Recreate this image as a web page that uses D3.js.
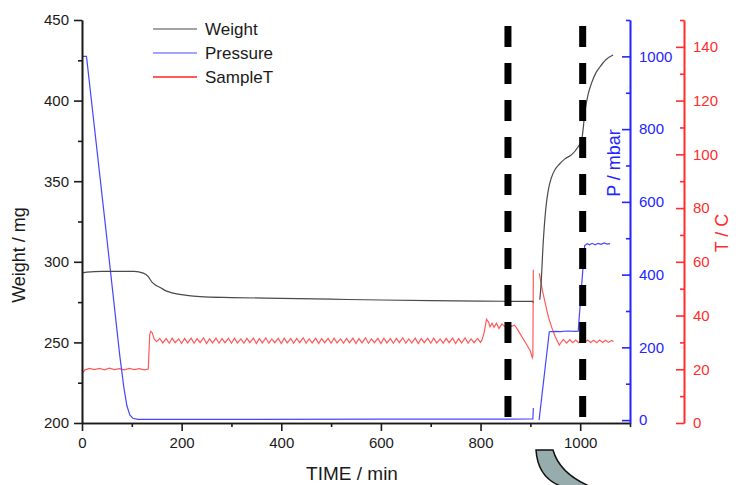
<!DOCTYPE html>
<html>
<head>
<meta charset="utf-8">
<script src="https://cdn.jsdelivr.net/npm/d3@7"></script>
<style>
  body { margin: 0; background: #fff; }
  svg text { font-family: 'Liberation Sans', Arial, sans-serif; }
</style>
</head>
<body>
<div class="tgaChart"></div>
<script>
// time in min, weight in mg (null = gap in logging)
const weightData = [
  [0, 292.9], [10, 293.6], [40, 294], [105, 294], [123, 293], [133, 290.8], [140, 287.6],
  [148, 285.5], [157, 284], [170, 281.8], [183, 280.6], [210, 279.2], [237, 278.4],
  [300, 277.8], [400, 277.3], [500, 276.8], [600, 276.3], [700, 275.9], [800, 275.6],
  [905, 275.4], [906, 274.6], [912, null],
  [919, 276.5], [921, 284], [926, 313], [931, 333], [936, 344.5], [942, 352], [950, 357.5],
  [958, 360.5], [970, 364], [983, 366.5], [996, 371.4], [1003, 375.6], [1010, 394],
  [1016, 404], [1023, 411], [1032, 417.5], [1040, 421], [1052, 425.5], [1066, 428.3]
];

// time in min, pressure in mbar
const pressureData = [
  [0, 1000], [9, 1000], [48, 523], [76, 175], [84, 90], [90, 40], [96, 14], [102, 5],
  [112, 2], [300, 2], [600, 2.5], [905, 3], [906, 33], [912, null],
  [917.5, 0], [938, 243], [950, 244], [960, 243.5], [975, 245], [990, 244], [996, 244.5],
  [1009, 480], [1014, 485], [1019, 482], [1024, 486], [1030, 482], [1036, 486],
  [1042, 483], [1048, 487], [1054, 484], [1060, 485]
];

// time in min, sample temperature in C
const tempData = [
  [0, 19.9], [2, 18.8], [6, 19.8], [15, 20.3], [25, 19.9], [35, 20.3], [45, 19.8],
  [55, 20.4], [65, 19.9], [75, 20.2], [85, 19.8], [95, 20.3], [105, 19.9], [115, 20.2],
  [125, 19.8], [133, 20.1], [136, 33], [138, 34.1], [141, 33.6], [145, 31.2],
  [150, 30.3], [156, 31.5], [162, 29.8], [169, 31.4], [175, 29.7], [181, 31.6], [187, 29.9],
  [194, 31.3], [200, 29.6], [206, 31.5], [212, 29.8], [219, 31.6], [225, 29.7], [231, 31.4],
  [237, 29.9], [244, 31.7], [250, 29.6], [256, 31.3], [262, 29.8], [269, 31.6], [275, 29.7],
  [281, 31.4], [287, 29.9], [294, 31.5], [300, 29.7], [306, 31.6], [312, 29.8], [319, 31.3],
  [325, 29.7], [331, 31.5], [337, 29.9], [344, 31.6], [350, 29.6], [356, 31.4], [362, 29.8],
  [369, 31.7], [375, 29.7], [381, 31.3], [387, 29.9], [394, 31.5], [400, 29.6], [406, 31.6],
  [412, 29.8], [419, 31.4], [425, 29.7], [431, 31.5], [437, 29.9], [444, 31.7], [450, 29.7],
  [456, 31.3], [462, 29.8], [469, 31.6], [475, 29.6], [481, 31.4], [487, 29.9], [494, 31.5],
  [500, 29.7], [506, 31.6], [512, 29.8], [519, 31.3], [525, 29.7], [531, 31.5], [537, 29.9],
  [544, 31.6], [550, 29.6], [556, 31.4], [562, 29.8], [569, 31.7], [575, 29.7], [581, 31.3],
  [587, 29.9], [594, 31.5], [600, 29.6], [606, 31.6], [612, 29.8], [619, 31.4], [625, 29.7],
  [631, 31.5], [637, 29.9], [644, 31.7], [650, 29.7], [656, 31.3], [662, 29.8], [669, 31.6],
  [675, 29.6], [681, 31.4], [687, 29.9], [694, 31.5], [700, 29.7], [706, 31.6], [712, 29.8],
  [719, 31.3], [725, 29.7], [731, 31.5], [737, 29.9], [744, 31.6], [750, 29.6], [756, 31.4],
  [762, 29.8], [769, 31.7], [775, 29.7], [781, 31.3], [787, 29.9], [794, 31.5], [800, 30.0],
  [803, 31.0], [807, 33.5], [812, 38.6], [816, 37.6], [819, 35.8], [823, 37.1], [827, 35.6],
  [832, 37.1], [837, 35.2], [843, 36.9], [849, 35.8], [856, 36.8], [862, 36.0], [868, 36.4],
  [872, 35.5], [881, 32.7], [891, 29.7], [900, 26.8], [904, 24.3], [905, 25], [906, 57],
  [912, null],
  [918, 55.7], [924, 49.5], [930, 44.5], [936, 39.6], [943, 35.5], [950, 32.1], [958, 29.0],
  [966, 31.1], [973, 29.7], [979, 31.0], [985, 29.9], [991, 30.9], [997, 29.9], [1003, 30.8],
  [1009, 30.0], [1015, 30.9], [1021, 30.0], [1027, 30.8], [1033, 29.9], [1039, 30.9],
  [1045, 30.0], [1051, 30.8], [1057, 30.0], [1063, 30.7], [1067, 30.3]
];

const seriesNames = ['Weight', 'Pressure', 'SampleT'];
const seriesColors = ['#4a4a4a', '#4646ff', '#ff5a5a'];

const timeTicks = [0, 200, 400, 600, 800, 1000];
const weightTicks = [200, 250, 300, 350, 400, 450];
const pressureTicks = [0, 200, 400, 600, 800, 1000];
const tempTicks = [0, 20, 40, 60, 80, 100, 120, 140];

// the two dashed markers (min)
const markerTimes = [855, 1005];

const margin = ({top: 20, right: 109, bottom: 62, left: 82});
const width = 739 - margin.left - margin.right;
const height = 485 - margin.top - margin.bottom;

const svg = d3.select('.tgaChart')
  .append('svg')
  .attr('width', 739)
  .attr('height', 485);

const g = svg.append('g')
  .attr('transform', `translate(${margin.left}, ${margin.top})`);

const xScale = d3.scaleLinear().domain([0, 1100]).range([0, width]);
const yWeight = d3.scaleLinear().domain([200, 450]).range([height, 0]);
const yPressure = d3.scaleLinear().domain([-8, 1100]).range([height, 0]);
const yTemp = d3.scaleLinear().domain([0, 150]).range([height, 0]);

const fmt = d3.format('d');

const lineFor = (yScale, curve) => d3.line()
  .defined(d => d[1] !== null)
  .x(d => xScale(d[0]))
  .y(d => yScale(d[1]))
  .curve(curve);

// series
g.append('path')
  .datum(tempData)
  .attr('fill', 'none')
  .attr('stroke', seriesColors[2])
  .attr('stroke-width', 1.2)
  .attr('d', lineFor(yTemp, d3.curveLinear));

g.append('path')
  .datum(pressureData)
  .attr('fill', 'none')
  .attr('stroke', seriesColors[1])
  .attr('stroke-width', 1.2)
  .attr('d', lineFor(yPressure, d3.curveLinear));

g.append('path')
  .datum(weightData)
  .attr('fill', 'none')
  .attr('stroke', seriesColors[0])
  .attr('stroke-width', 1.2)
  .attr('d', lineFor(yWeight, d3.curveMonotoneX));

// dashed markers
g.selectAll('.marker')
  .data(markerTimes)
  .enter()
  .append('line')
  .attr('class', 'marker')
  .attr('x1', d => xScale(d))
  .attr('x2', d => xScale(d))
  .attr('y1', 6)
  .attr('y2', height - 5)
  .attr('stroke', '#000')
  .attr('stroke-width', 7)
  .attr('stroke-dasharray', '21,16');

// axes
function styleAxis(sel, color) {
  sel.selectAll('path').attr('stroke', color).attr('stroke-width', 1.6);
  sel.selectAll('line').attr('stroke', color).attr('stroke-width', 1.6);
  sel.selectAll('text').attr('fill', color).style('font-size', '15px');
}

// minor ticks
const minorAxis = (axis, scale, vals, size) => axis(scale).tickValues(vals).tickSize(size).tickSizeOuter(0).tickFormat('');

g.append('g')
  .attr('transform', `translate(0, ${height})`)
  .call(minorAxis(d3.axisBottom, xScale, d3.range(100, 1101, 200), 4))
  .call(s => styleAxis(s, '#1a1a1a'));

g.append('g')
  .call(minorAxis(d3.axisLeft, yWeight, d3.range(225, 450, 50), 4))
  .call(s => styleAxis(s, '#1a1a1a'));

g.append('g')
  .attr('transform', `translate(${width}, 0)`)
  .call(minorAxis(d3.axisRight, yPressure, d3.range(100, 1101, 200), -4))
  .call(s => styleAxis(s, '#2424ff'));

g.append('g')
  .attr('transform', `translate(${width + 54}, 0)`)
  .call(minorAxis(d3.axisRight, yTemp, d3.range(10, 151, 20), -4))
  .call(s => styleAxis(s, '#ff2d2d'));

// major ticks
g.append('g')
  .attr('transform', `translate(0, ${height})`)
  .call(d3.axisBottom(xScale).tickValues(timeTicks).tickFormat(fmt).tickSize(8).tickSizeOuter(0).tickPadding(6))
  .call(s => styleAxis(s, '#1a1a1a'));

g.append('g')
  .call(d3.axisLeft(yWeight).tickValues(weightTicks).tickFormat(fmt).tickSize(8).tickSizeOuter(0).tickPadding(5))
  .call(s => styleAxis(s, '#1a1a1a'));

g.append('g')
  .attr('transform', `translate(${width}, 0)`)
  .call(d3.axisRight(yPressure).tickValues(pressureTicks).tickFormat(fmt).tickSize(-8).tickSizeOuter(0).tickPadding(9))
  .call(s => styleAxis(s, '#2424ff'));

g.append('g')
  .attr('transform', `translate(${width + 54}, 0)`)
  .call(d3.axisRight(yTemp).tickValues(tempTicks).tickFormat(fmt).tickSize(-8).tickSizeOuter(0).tickPadding(9))
  .call(s => styleAxis(s, '#ff2d2d'));

// axis titles
svg.append('text')
  .attr('x', 352)
  .attr('y', 480)
  .attr('text-anchor', 'middle')
  .style('font-size', '19px')
  .attr('fill', '#1a1a1a')
  .text('TIME / min');

svg.append('text')
  .attr('transform', 'translate(25, 255) rotate(-90)')
  .attr('text-anchor', 'middle')
  .style('font-size', '18px')
  .attr('fill', '#1a1a1a')
  .text('Weight / mg');

svg.append('text')
  .attr('transform', 'translate(620, 163) rotate(-90)')
  .attr('text-anchor', 'middle')
  .style('font-size', '18px')
  .attr('fill', '#2424ff')
  .text('P / mbar');

svg.append('text')
  .attr('transform', 'translate(728, 233) rotate(-90)')
  .attr('text-anchor', 'middle')
  .style('font-size', '18px')
  .attr('fill', '#ff2d2d')
  .text('T / C');

// legend
const legend = svg.append('g')
  .attr('transform', 'translate(153, 29)');

legend.selectAll('line')
  .data(seriesNames)
  .enter()
  .append('line')
  .attr('x1', 0)
  .attr('x2', 44)
  .attr('y1', (d, i) => i * 24)
  .attr('y2', (d, i) => i * 24)
  .attr('stroke', (d, i) => seriesColors[i])
  .attr('stroke-width', (d, i) => i === 2 ? 1.8 : 1.2);

legend.selectAll('text')
  .data(seriesNames)
  .enter()
  .append('text')
  .attr('x', 52)
  .attr('y', (d, i) => i * 24 + 6)
  .style('font-size', '17px')
  .attr('fill', '#1a1a1a')
  .text(d => d);

// curved callout at the bottom
svg.append('path')
  .attr('d', 'M536,450 L553,450 Q560,475 594,488 L567,488 Q538,481 536,450 Z')
  .attr('fill', '#97adad')
  .attr('stroke', '#111')
  .attr('stroke-width', 1.5);
</script>
</body>
</html>
